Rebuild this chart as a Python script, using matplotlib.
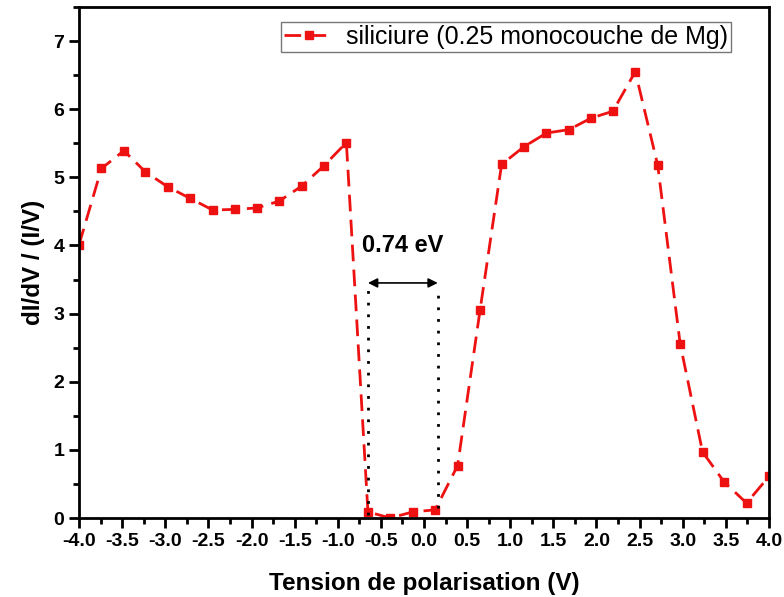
import matplotlib
matplotlib.use("Agg")
import matplotlib.pyplot as plt
from matplotlib.ticker import MultipleLocator, FormatStrFormatter

# tension de polarisation (V) et conductance normalisee
tension = [-4.00, -3.74, -3.48, -3.23, -2.97, -2.71, -2.45, -2.19, -1.94, -1.68,
           -1.42, -1.16, -0.90, -0.65, -0.39, -0.13, 0.13, 0.39, 0.65, 0.90,
           1.16, 1.42, 1.68, 1.94, 2.19, 2.45, 2.71, 2.97, 3.23, 3.48,
           3.74, 4.00]
didv = [4.01, 5.13, 5.39, 5.08, 4.86, 4.69, 4.52, 4.53, 4.55, 4.65,
        4.87, 5.17, 5.51, 0.09, 0.00, 0.09, 0.12, 0.77, 3.05, 5.19,
        5.45, 5.65, 5.70, 5.87, 5.97, 6.55, 5.18, 2.56, 0.97, 0.53,
        0.22, 0.61]

# bornes du gap
gap_min = -0.65
gap_max = 0.16
gap_label = "0.74 eV"

plt.rcParams['font.family'] = ['Liberation Sans', 'DejaVu Sans']

fig = plt.figure(figsize=(7.84, 5.97), dpi=100)
ax = fig.add_axes([0.1008, 0.1323, 0.880, 0.856])

ax.plot(tension, didv, color="#ee1111", linestyle=(0, (6, 3)), linewidth=2,
        marker="s", markersize=6, label="siliciure (0.25 monocouche de Mg)")

# gap : pointilles verticaux + fleche
ax.plot([gap_min, gap_min], [0.05, 3.35], color="black", linestyle=(0, (1, 3.2)), linewidth=2)
ax.plot([gap_max, gap_max], [0.15, 3.35], color="black", linestyle=(0, (1, 3.2)), linewidth=2)
ax.annotate("", xy=(gap_min, 3.45), xytext=(gap_max, 3.45),
            arrowprops=dict(arrowstyle="<|-|>", color="black", lw=1.2,
                            mutation_scale=14, shrinkA=0, shrinkB=0))
ax.text((gap_min + gap_max) / 2, 4.0, gap_label, ha="center", va="center",
        fontsize=17, fontweight="bold")

ax.set_xlim(-4, 4)
ax.set_ylim(0, 7.5)
ax.xaxis.set_major_locator(MultipleLocator(0.5))
ax.xaxis.set_minor_locator(MultipleLocator(0.25))
ax.xaxis.set_major_formatter(FormatStrFormatter("%.1f"))
ax.yaxis.set_major_locator(MultipleLocator(1))
ax.yaxis.set_minor_locator(MultipleLocator(0.5))

ax.tick_params(which="major", direction="out", length=7, width=2,
               labelsize=14, top=False, right=False)
ax.tick_params(which="minor", direction="out", length=4, width=2,
               top=False, right=False)
for lab in ax.get_xticklabels() + ax.get_yticklabels():
    lab.set_fontweight("bold")
for s in ax.spines.values():
    s.set_linewidth(2)

ax.set_xlabel("Tension de polarisation (V)", fontsize=17.5, fontweight="bold", labelpad=16)
ax.set_ylabel("dI/dV / (I/V)", fontsize=17.5, fontweight="bold", labelpad=6)

leg = ax.legend(loc="upper right", bbox_to_anchor=(0.945, 0.971), fontsize=18,
                fancybox=False, framealpha=1, edgecolor="#777777",
                handlelength=2.0, borderpad=0.12, handletextpad=0.5,
                borderaxespad=0)
leg.get_frame().set_linewidth(1)

fig.savefig("out.png", dpi=100)
